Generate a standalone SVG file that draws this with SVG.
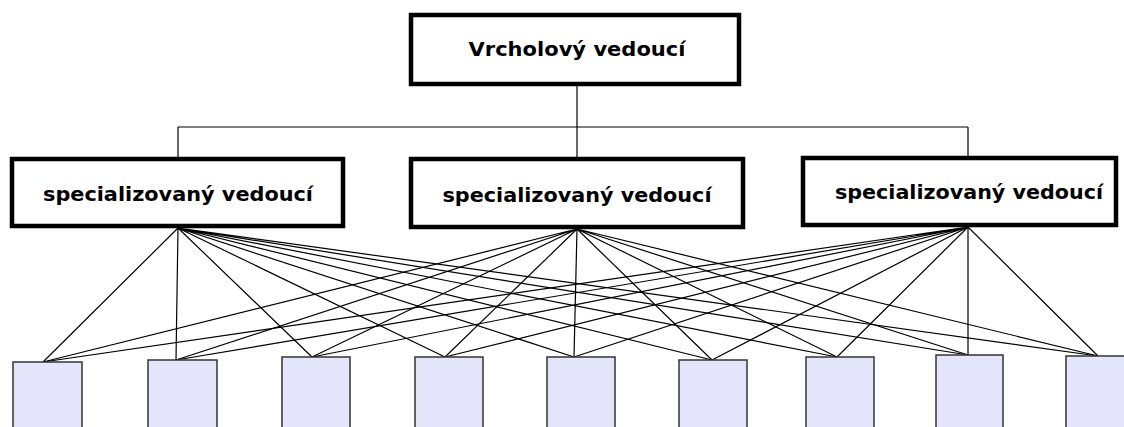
<svg xmlns="http://www.w3.org/2000/svg" width="1124" height="427" viewBox="0 0 1124 427">
  <style>
    .mgr { fill: #ffffff; stroke: #000000; stroke-width: 4.5; }
    .unit { fill: #e4e4fa; stroke: #333333; stroke-width: 1.5; }
    .lbl { font-family: "DejaVu Sans", Verdana, sans-serif; font-weight: bold; font-size: 20px; fill: #000000; text-anchor: middle; }
    .wire { stroke: #000000; stroke-width: 1.2; fill: none; }
  </style>
  <rect width="1124" height="427" fill="#ffffff"/>

  <!-- connectors -->
  <g id="connectors" class="wire">
    <!-- top-level tree -->
    <path d="M577 86 V157 M178 127 H968 M178 127 V157 M968 127 V156"/>
    <!-- left manager to all units -->
    <path d="M178 228 L43 362 M178 228 L176 360 M178 228 L312 357 M178 228 L445 357 M178 228 L574 357 M178 228 L712 360 M178 228 L837 357 M178 228 L968 355 M178 228 L1098 356"/>
    <!-- middle manager to all units -->
    <path d="M577 229 L43 362 M577 229 L176 360 M577 229 L312 357 M577 229 L445 357 M577 229 L574 357 M577 229 L712 360 M577 229 L837 357 M577 229 L968 355 M577 229 L1098 356"/>
    <!-- right manager to all units -->
    <path d="M968 227 L43 362 M968 227 L176 360 M968 227 L312 357 M968 227 L445 357 M968 227 L574 357 M968 227 L712 360 M968 227 L837 357 M968 227 L968 355 M968 227 L1098 356"/>
  </g>

  <g id="top-manager">
    <rect class="mgr" x="411" y="15" width="328" height="69"/>
    <text class="lbl" x="577" y="56" textLength="217" lengthAdjust="spacingAndGlyphs">Vrcholový vedoucí</text>
  </g>

  <g id="manager-left">
    <rect class="mgr" x="12" y="159" width="331" height="67"/>
    <text class="lbl" x="178" y="201" textLength="270" lengthAdjust="spacingAndGlyphs">specializovaný vedoucí</text>
  </g>
  <g id="manager-middle">
    <rect class="mgr" x="411" y="159" width="332" height="68"/>
    <text class="lbl" x="577" y="202" textLength="269" lengthAdjust="spacingAndGlyphs">specializovaný vedoucí</text>
  </g>
  <g id="manager-right">
    <rect class="mgr" x="803" y="158" width="313" height="67"/>
    <text class="lbl" x="969" y="199" textLength="268" lengthAdjust="spacingAndGlyphs">specializovaný vedoucí</text>
  </g>

  <g id="unit-1"><rect class="unit" x="13" y="362" width="69" height="70"/></g>
  <g id="unit-2"><rect class="unit" x="148" y="360" width="69" height="72"/></g>
  <g id="unit-3"><rect class="unit" x="282" y="357" width="68" height="75"/></g>
  <g id="unit-4"><rect class="unit" x="415" y="357" width="68" height="75"/></g>
  <g id="unit-5"><rect class="unit" x="547" y="357" width="68" height="75"/></g>
  <g id="unit-6"><rect class="unit" x="679" y="360" width="68" height="72"/></g>
  <g id="unit-7"><rect class="unit" x="806" y="357" width="68" height="75"/></g>
  <g id="unit-8"><rect class="unit" x="936" y="355" width="67" height="77"/></g>
  <g id="unit-9"><rect class="unit" x="1066" y="356" width="68" height="76"/></g>
</svg>
